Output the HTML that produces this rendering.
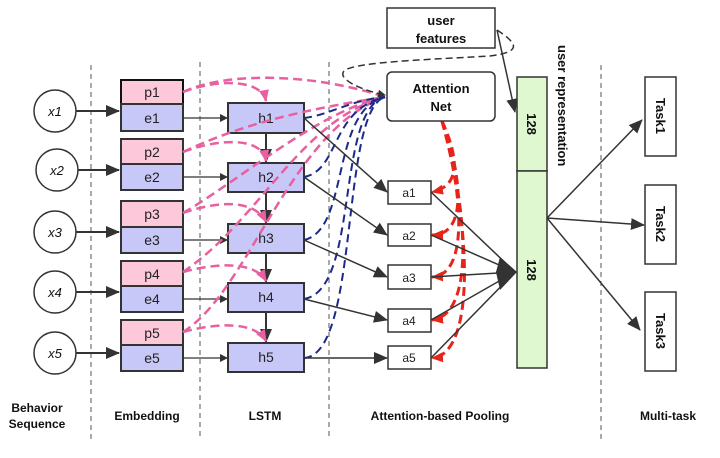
<!DOCTYPE html>
<html><head><style>body{margin:0;background:#fff}svg{display:block}text{font-family:"Comic Sans MS","Liberation Sans",sans-serif}</style></head><body>
<svg width="720" height="458" viewBox="0 0 720 458" xmlns="http://www.w3.org/2000/svg">
<defs>
<marker id="ab" markerWidth="8" markerHeight="8" refX="7" refY="4" orient="auto" markerUnits="userSpaceOnUse"><path d="M0,0 L8,4 L0,8z" fill="#333"/></marker>
<marker id="abl" markerWidth="14" markerHeight="12" refX="13" refY="6" orient="auto" markerUnits="userSpaceOnUse"><path d="M0,0 L14,6 L0,12z" fill="#333"/></marker>
<marker id="ap" markerWidth="12" markerHeight="10" refX="11" refY="5" orient="auto" markerUnits="userSpaceOnUse"><path d="M0,0 L12,5 L0,10z" fill="#e8609f"/></marker>
<marker id="ar" markerWidth="12" markerHeight="10" refX="11" refY="5" orient="auto" markerUnits="userSpaceOnUse"><path d="M0,0 L12,5 L0,10z" fill="#e8241a"/></marker>
</defs>
<g stroke="#555" stroke-dasharray="5,4" stroke-width="1">
<line x1="91" y1="65" x2="91" y2="440"/><line x1="200" y1="62" x2="200" y2="440"/><line x1="329" y1="62" x2="329" y2="440"/><line x1="601" y1="65" x2="601" y2="440"/>
</g>
<g font-size="13" text-anchor="middle" fill="#111">
<g stroke="#333" stroke-width="1.5" fill="#fff">
<circle cx="55" cy="111" r="21"/><circle cx="57" cy="170" r="21"/><circle cx="55" cy="232" r="21"/><circle cx="55" cy="292" r="21"/><circle cx="55" cy="353" r="21"/>
</g>
<g font-style="italic">
<text x="55" y="116">x1</text><text x="57" y="175">x2</text><text x="55" y="237">x3</text><text x="55" y="297">x4</text><text x="55" y="358">x5</text>
</g>
</g>
<g stroke="#333" stroke-width="2" marker-end="url(#abl)">
<line x1="76" y1="111" x2="119" y2="111"/><line x1="78" y1="170" x2="119" y2="170"/><line x1="76" y1="232" x2="119" y2="232"/><line x1="76" y1="292" x2="119" y2="292"/><line x1="76" y1="353" x2="119" y2="353"/>
</g>
<g stroke="#333" stroke-width="2" font-size="14">
<rect x="121" y="80" width="62" height="24" fill="#fcc8da" stroke="#111"/><rect x="121" y="104" width="62" height="27" fill="#c8c8f8"/>
<rect x="121" y="139" width="62" height="25" fill="#fcc8da"/><rect x="121" y="164" width="62" height="26" fill="#c8c8f8"/>
<rect x="121" y="201" width="62" height="26" fill="#fcc8da"/><rect x="121" y="227" width="62" height="26" fill="#c8c8f8"/>
<rect x="121" y="261" width="62" height="25" fill="#fcc8da"/><rect x="121" y="286" width="62" height="26" fill="#c8c8f8"/>
<rect x="121" y="320" width="62" height="25" fill="#fcc8da"/><rect x="121" y="345" width="62" height="26" fill="#c8c8f8"/>
<rect x="228" y="103" width="76" height="30" fill="#c8c8f8"/><rect x="228" y="163" width="76" height="29" fill="#c8c8f8"/><rect x="228" y="224" width="76" height="29" fill="#c8c8f8"/><rect x="228" y="283" width="76" height="29" fill="#c8c8f8"/><rect x="228" y="343" width="76" height="29" fill="#c8c8f8"/>
</g>
<g font-size="14" text-anchor="middle" fill="#222">
<text x="152" y="97">p1</text><text x="152" y="123">e1</text><text x="152" y="157">p2</text><text x="152" y="182">e2</text><text x="152" y="219">p3</text><text x="152" y="245">e3</text><text x="152" y="279">p4</text><text x="152" y="304">e4</text><text x="152" y="338">p5</text><text x="152" y="363">e5</text>
<text x="266" y="123">h1</text><text x="266" y="182">h2</text><text x="266" y="243">h3</text><text x="266" y="302">h4</text><text x="266" y="362">h5</text>
</g>
<g stroke="#333" stroke-width="1.2" marker-end="url(#ab)">
<line x1="183" y1="118" x2="227" y2="118"/><line x1="183" y1="177" x2="227" y2="177"/><line x1="183" y1="240" x2="227" y2="240"/><line x1="183" y1="299" x2="227" y2="299"/><line x1="183" y1="358" x2="227" y2="358"/>
</g>
<g stroke="#333" stroke-width="2" marker-end="url(#abl)">
<line x1="266" y1="133" x2="266" y2="162"/><line x1="266" y1="192" x2="266" y2="223"/><line x1="266" y1="253" x2="266" y2="282"/><line x1="266" y1="312" x2="266" y2="342"/>
</g>
<g fill="none" stroke="#e8609f" stroke-width="2.5" stroke-dasharray="9,5">
<path d="M183,92 C230,70 320,75 385,97"/>
<path d="M183,92 C220,78 262,80 266,101" marker-end="url(#ap)"/>
<path d="M183,152 C240,125 300,110 385,97"/>
<path d="M183,152 C220,138 262,137 266,161" marker-end="url(#ap)"/>
<path d="M183,213 C240,180 320,110 385,97"/>
<path d="M183,213 C220,200 255,200 266,222" marker-end="url(#ap)"/>
<path d="M183,272 C260,220 300,120 385,97"/>
<path d="M183,272 C220,262 255,262 266,281" marker-end="url(#ap)"/>
<path d="M183,332 C250,290 290,130 385,97"/>
<path d="M183,332 C220,322 255,322 266,341" marker-end="url(#ap)"/>
</g>
<g fill="none" stroke="#1a2a8a" stroke-width="2" stroke-dasharray="8,5">
<path d="M304,118 C330,115 350,100 385,97"/>
<path d="M304,177 C340,170 330,110 385,97"/>
<path d="M304,240 C350,230 330,110 385,97"/>
<path d="M304,299 C360,290 335,110 385,97"/>
<path d="M304,358 C360,355 340,110 385,97"/>
</g>
<g fill="none" stroke="#e8241a" stroke-width="3" stroke-dasharray="9,5">
<path d="M442,121 C455,150 465,185 432,192" marker-end="url(#ar)"/>
<path d="M442,121 C460,170 470,235 432,235" marker-end="url(#ar)"/>
<path d="M442,121 C462,190 470,275 432,277" marker-end="url(#ar)"/>
<path d="M442,121 C468,210 475,315 432,320" marker-end="url(#ar)"/>
<path d="M442,121 C472,230 475,355 432,358" marker-end="url(#ar)"/>
</g>
<g stroke="#333" stroke-width="1.5" marker-end="url(#abl)">
<line x1="304" y1="118" x2="387" y2="192"/><line x1="304" y1="177" x2="387" y2="235"/><line x1="304" y1="240" x2="387" y2="277"/><line x1="304" y1="299" x2="387" y2="320"/><line x1="304" y1="358" x2="387" y2="358"/>
<line x1="431" y1="192" x2="515" y2="272" marker-end="none"/><line x1="431" y1="235" x2="515" y2="272" marker-end="none"/><line x1="431" y1="277" x2="515" y2="272" marker-end="none"/><line x1="515" y1="272" x2="431" y2="320" marker-end="none"/><line x1="515" y1="272" x2="431" y2="358" marker-end="none"/>
<line x1="497" y1="30" x2="515" y2="112"/>
<line x1="547" y1="218" x2="642" y2="120"/><line x1="547" y1="218" x2="644" y2="225"/><line x1="547" y1="218" x2="640" y2="330"/>
</g>
<path d="M500,257 L517,272 L500,290 L496,272z" fill="#333"/>
<g stroke="#333" stroke-width="1.5" fill="#fff">
<rect x="388" y="181" width="43" height="23"/><rect x="388" y="224" width="43" height="22"/><rect x="388" y="265" width="43" height="24"/><rect x="388" y="309" width="43" height="23"/><rect x="388" y="346" width="43" height="23"/>
</g>
<g font-size="12" text-anchor="middle" fill="#222">
<text x="409" y="197">a1</text><text x="409" y="240">a2</text><text x="409" y="282">a3</text><text x="409" y="325">a4</text><text x="409" y="362">a5</text>
</g>
<path d="M497,30 C520,45 520,52 490,56 C420,60 360,62 345,70 C335,78 360,90 385,95" fill="none" stroke="#333" stroke-width="1.5" stroke-dasharray="7,4" marker-end="url(#ab)"/>
<rect x="387" y="8" width="108" height="40" fill="#fff" stroke="#333" stroke-width="1.5"/>
<rect x="387" y="72" width="108" height="49" rx="5" fill="#fff" stroke="#333" stroke-width="1.5"/>
<g font-size="13" font-weight="bold" text-anchor="middle" fill="#111">
<text x="441" y="25">user</text><text x="441" y="43">features</text>
<text x="441" y="93">Attention</text><text x="441" y="111">Net</text>
</g>
<rect x="517" y="77" width="30" height="94" fill="#dff8d0" stroke="#333" stroke-width="1.5"/>
<rect x="517" y="171" width="30" height="197" fill="#dff8d0" stroke="#333" stroke-width="1.5"/>
<g font-size="13" font-weight="bold" fill="#111" text-anchor="middle">
<text transform="translate(527,124) rotate(90)">128</text>
<text transform="translate(527,270) rotate(90)">128</text>
<text transform="translate(558,45) rotate(90)" text-anchor="start">user representation</text>
</g>
<g stroke="#333" stroke-width="1.5" fill="#fff">
<rect x="645" y="77" width="31" height="79"/><rect x="645" y="185" width="31" height="79"/><rect x="645" y="292" width="31" height="79"/>
</g>
<g font-size="13" font-weight="bold" fill="#111" text-anchor="middle">
<text transform="translate(656,116) rotate(90)">Task1</text>
<text transform="translate(656,224) rotate(90)">Task2</text>
<text transform="translate(656,331) rotate(90)">Task3</text>
</g>
<g font-size="12" font-weight="bold" fill="#111" text-anchor="middle">
<text x="37" y="412">Behavior</text><text x="37" y="428">Sequence</text>
<text x="147" y="420">Embedding</text><text x="265" y="420">LSTM</text><text x="440" y="420">Attention-based Pooling</text><text x="668" y="420">Multi-task</text>
</g>
</svg>
</body></html>
